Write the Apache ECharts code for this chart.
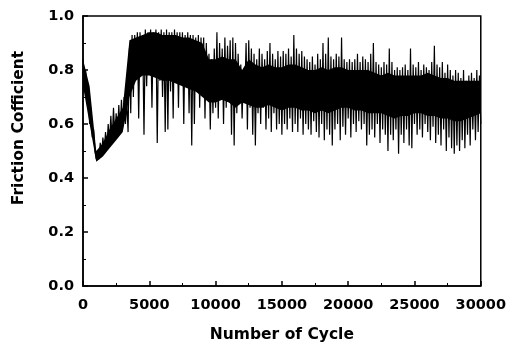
<!DOCTYPE html>
<html>
<head>
<meta charset="utf-8">
<script src="https://cdn.jsdelivr.net/npm/echarts@6/dist/echarts.min.js"></script>
<style>
  html, body { margin: 0; padding: 0; background: #fff; }
  #chart { width: 509px; height: 348px; }
</style>
</head>
<body>
<div id="chart"></div>
<script>
// 摩擦系数数据：每 100 次循环读一个值（高低交替读取图中的毛刺）
const cycleStep = 100;
const friction = [
  0.84, 0.72, 0.80, 0.68, 0.74, 0.60, 0.66, 0.55, 0.58, 0.50,
  0.47, 0.50, 0.47, 0.53, 0.49, 0.55, 0.50, 0.57, 0.51, 0.60,
  0.53, 0.63, 0.54, 0.66, 0.55, 0.64, 0.56, 0.67, 0.57, 0.69,
  0.59, 0.70, 0.60, 0.68, 0.57, 0.88, 0.64, 0.93, 0.70, 0.93,
  0.78, 0.94, 0.62, 0.94, 0.80, 0.93, 0.56, 0.95, 0.74, 0.94,
  0.82, 0.95, 0.66, 0.94, 0.79, 0.95, 0.53, 0.94, 0.76, 0.95,
  0.70, 0.94, 0.57, 0.95, 0.58, 0.94, 0.72, 0.94, 0.62, 0.95,
  0.77, 0.94, 0.66, 0.94, 0.80, 0.94, 0.60, 0.93, 0.74, 0.94,
  0.64, 0.93, 0.52, 0.93, 0.60, 0.92, 0.72, 0.93, 0.66, 0.92,
  0.76, 0.92, 0.62, 0.90, 0.70, 0.86, 0.58, 0.84, 0.64, 0.88,
  0.66, 0.94, 0.62, 0.90, 0.70, 0.88, 0.60, 0.92, 0.66, 0.89,
  0.72, 0.91, 0.56, 0.92, 0.52, 0.90, 0.64, 0.86, 0.68, 0.82,
  0.62, 0.80, 0.70, 0.90, 0.58, 0.91, 0.66, 0.88, 0.56, 0.86,
  0.52, 0.84, 0.64, 0.88, 0.60, 0.86, 0.66, 0.84, 0.58, 0.87,
  0.62, 0.90, 0.57, 0.86, 0.64, 0.84, 0.58, 0.87, 0.60, 0.85,
  0.56, 0.87, 0.60, 0.86, 0.58, 0.88, 0.62, 0.85, 0.57, 0.93,
  0.60, 0.88, 0.57, 0.86, 0.62, 0.87, 0.56, 0.85, 0.60, 0.84,
  0.58, 0.83, 0.56, 0.85, 0.61, 0.82, 0.57, 0.86, 0.55, 0.84,
  0.60, 0.90, 0.54, 0.86, 0.58, 0.92, 0.56, 0.85, 0.52, 0.84,
  0.58, 0.86, 0.60, 0.85, 0.54, 0.92, 0.59, 0.84, 0.56, 0.83,
  0.62, 0.84, 0.55, 0.83, 0.60, 0.84, 0.57, 0.86, 0.61, 0.83,
  0.58, 0.85, 0.60, 0.84, 0.52, 0.83, 0.56, 0.86, 0.58, 0.90,
  0.55, 0.83, 0.60, 0.82, 0.53, 0.81, 0.58, 0.83, 0.56, 0.82,
  0.50, 0.88, 0.56, 0.83, 0.54, 0.80, 0.58, 0.81, 0.49, 0.80,
  0.56, 0.81, 0.53, 0.82, 0.58, 0.80, 0.52, 0.88, 0.51, 0.82,
  0.60, 0.81, 0.56, 0.83, 0.58, 0.80, 0.55, 0.82, 0.60, 0.81,
  0.57, 0.80, 0.54, 0.83, 0.59, 0.89, 0.53, 0.82, 0.56, 0.81,
  0.52, 0.83, 0.58, 0.79, 0.50, 0.82, 0.55, 0.80, 0.51, 0.78,
  0.49, 0.80, 0.52, 0.79, 0.50, 0.77, 0.54, 0.80, 0.51, 0.76,
  0.56, 0.78, 0.52, 0.79, 0.58, 0.77, 0.54, 0.80, 0.57, 0.78,
  0.60
];

// 实心黑带（每 500 次循环读一次上下沿）
const bandStep = 500;
const bandLow = [
  0.74, 0.60, 0.46, 0.48, 0.51, 0.54, 0.57, 0.70,
  0.76, 0.78, 0.78, 0.77, 0.76, 0.76, 0.75, 0.74, 0.73, 0.72, 0.70, 0.68,
  0.68, 0.69, 0.68, 0.66, 0.68, 0.67, 0.66, 0.66, 0.67, 0.66,
  0.65, 0.66, 0.66, 0.65, 0.65, 0.64, 0.65, 0.64, 0.65, 0.66,
  0.66, 0.65, 0.65, 0.64, 0.64, 0.64, 0.63, 0.62, 0.63, 0.63,
  0.64, 0.64, 0.63, 0.63, 0.62, 0.62, 0.61, 0.61, 0.62, 0.63, 0.64
];
const bandHigh = [
  0.84, 0.74, 0.50, 0.53, 0.58, 0.62, 0.66, 0.91,
  0.92, 0.93, 0.94, 0.94, 0.93, 0.93, 0.93, 0.92, 0.92, 0.91, 0.90, 0.84,
  0.84, 0.85, 0.84, 0.84, 0.80, 0.84, 0.82, 0.81, 0.82, 0.81,
  0.81, 0.82, 0.82, 0.81, 0.80, 0.80, 0.81, 0.80, 0.81, 0.81,
  0.80, 0.80, 0.80, 0.80, 0.79, 0.78, 0.79, 0.78, 0.78, 0.78,
  0.78, 0.78, 0.79, 0.78, 0.77, 0.77, 0.76, 0.76, 0.76, 0.76, 0.76
];

const xTicks = [0, 5000, 10000, 15000, 20000, 25000, 30000];
const yTicks = [0.0, 0.2, 0.4, 0.6, 0.8, 1.0];

const points = friction.map((v, i) => [i * cycleStep, v]);

const chart = echarts.init(document.getElementById('chart'));
const tickFont = { fontFamily: 'DejaVu Sans', fontWeight: 'bold', fontSize: 14.5, color: '#000' };
const nameFont = { fontFamily: 'DejaVu Sans', fontWeight: 'bold', fontSize: 15.5, color: '#000' };
const axisLine = { show: true, lineStyle: { color: '#000', width: 1.5 } };
const axisTick = { show: true, inside: true, length: 5, lineStyle: { color: '#000', width: 1.5 } };
const minorTick = { show: true, splitNumber: 2, length: 3, lineStyle: { color: '#000', width: 1 } };

// 用坐标轴换算画出黑带多边形
function renderBand(params, api) {
  const top = bandHigh.map((v, i) => api.coord([i * bandStep, v]));
  const bottom = bandLow.map((v, i) => api.coord([i * bandStep, v])).reverse();
  return {
    type: 'polygon',
    shape: { points: top.concat(bottom) },
    style: { fill: '#000' }
  };
}

chart.setOption({
  animation: false,
  backgroundColor: '#fff',
  grid: {
    left: 83, right: 28, top: 16, bottom: 59,
    show: true, borderColor: '#000', borderWidth: 1.5, backgroundColor: 'transparent'
  },
  xAxis: {
    type: 'value',
    min: xTicks[0],
    max: xTicks[xTicks.length - 1],
    interval: 5000,
    name: 'Number of Cycle',
    nameLocation: 'middle',
    nameGap: 41,
    nameTextStyle: nameFont,
    axisLine, axisTick, minorTick,
    axisLabel: Object.assign({ margin: 12, formatter: v => String(v) }, tickFont),
    splitLine: { show: false }
  },
  yAxis: {
    type: 'value',
    min: yTicks[0],
    max: yTicks[yTicks.length - 1],
    interval: 0.2,
    name: 'Friction Cofficient',
    nameLocation: 'middle',
    nameGap: 56,
    nameTextStyle: Object.assign({ padding: [0, 0, 0, 46] }, nameFont),
    axisLine, axisTick, minorTick,
    axisLabel: Object.assign({ margin: 9, formatter: v => v.toFixed(1) }, tickFont),
    splitLine: { show: false }
  },
  series: [
    {
      type: 'custom',
      renderItem: renderBand,
      data: [0],
      silent: true,
      z: 1
    },
    {
      type: 'line',
      data: points,
      symbol: 'none',
      lineStyle: { color: '#000', width: 1.2 },
      z: 2
    }
  ]
});
</script>
</body>
</html>
